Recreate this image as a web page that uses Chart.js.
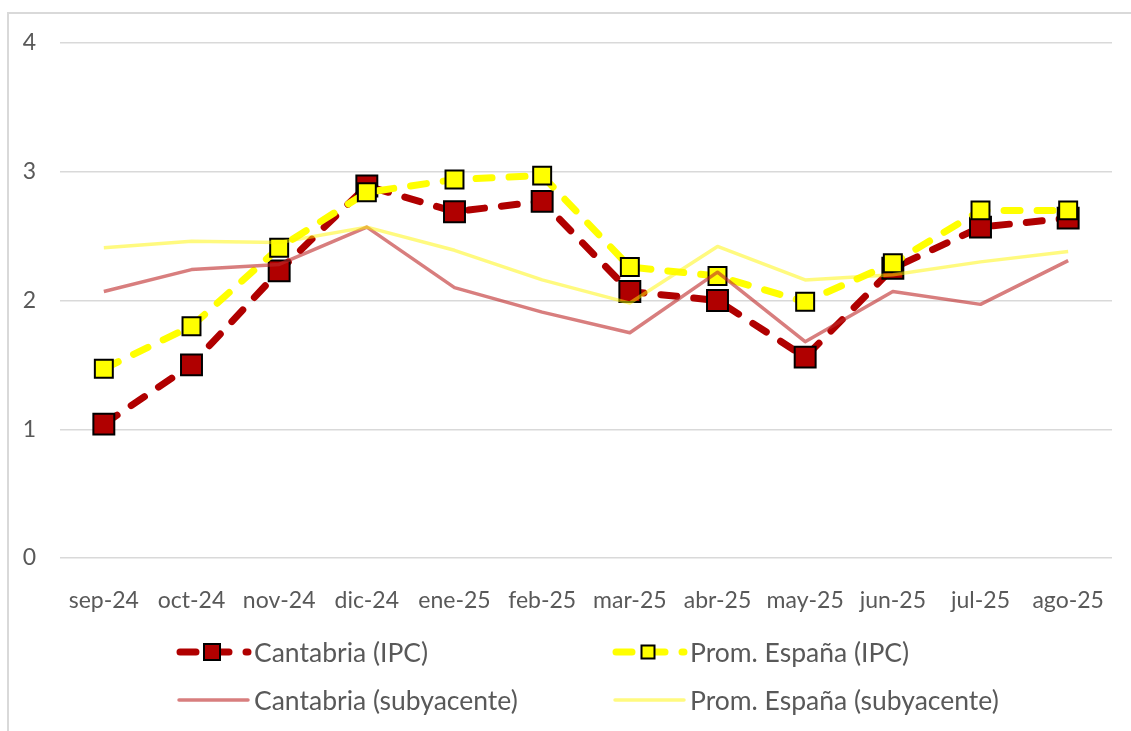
<!DOCTYPE html>
<html lang="es">
<head>
<meta charset="utf-8">
<title>IPC Cantabria vs España</title>
<script src="https://cdn.jsdelivr.net/npm/chart.js@4/dist/chart.umd.min.js"></script>
<style>
  html, body { margin: 0; padding: 0; background: #fff; }
  #wrap { position: relative; width: 1131px; height: 731px; overflow: hidden; font-family: Lato, "Open Sans", sans-serif; }
  #frame { position: absolute; left: 7px; top: 12px; width: 1300px; height: 900px; border: 2px solid #d9d9d9; }
  #chart { position: absolute; left: 0; top: 0; }
  .legend-item { position: absolute; display: flex; align-items: center; height: 30px; color: #595959; font-size: 26.5px; white-space: nowrap; }
  .legend-item svg { margin-right: 2px; flex: none; }
</style>
</head>
<body>
<div id="wrap">
  <div id="frame"></div>
  <canvas id="chart" width="1131" height="731"></canvas>
  <div id="legend"></div>
</div>
<script>
const months = ["sep-24", "oct-24", "nov-24", "dic-24", "ene-25", "feb-25", "mar-25", "abr-25", "may-25", "jun-25", "jul-25", "ago-25"];

const cantabriaIpc = [1.04, 1.50, 2.23, 2.89, 2.69, 2.77, 2.07, 2.00, 1.56, 2.25, 2.57, 2.64];
const espanaIpc = [1.47, 1.80, 2.41, 2.84, 2.94, 2.97, 2.26, 2.19, 1.99, 2.29, 2.70, 2.70];
const cantabriaSub = [2.07, 2.24, 2.28, 2.57, 2.10, 1.91, 1.75, 2.22, 1.68, 2.07, 1.97, 2.31];
const espanaSub = [2.41, 2.46, 2.45, 2.57, 2.39, 2.16, 1.98, 2.42, 2.16, 2.20, 2.30, 2.38];

const yTicks = [0, 1, 2, 3, 4];

const TEXT = "#595959";
const RED = "#b00000";
const YELLOW = "#ffff00";
const RED_SOFT = "rgba(190, 40, 40, 0.6)";
const YELLOW_SOFT = "rgba(255, 245, 0, 0.5)";
const DASH = [16, 17];

const datasets = [
  {
    label: "Cantabria (IPC)",
    data: cantabriaIpc,
    borderColor: RED,
    borderWidth: 7,
    borderDash: DASH,
    borderCapStyle: "round",
    pointStyle: "rect",
    pointRadius: 14.8,
    pointBackgroundColor: RED,
    pointBorderColor: "#000",
    pointBorderWidth: 2,
    order: 4,
  },
  {
    label: "Prom. España (IPC)",
    data: espanaIpc,
    borderColor: YELLOW,
    borderWidth: 7,
    borderDash: DASH,
    borderCapStyle: "round",
    pointStyle: "rect",
    pointRadius: 12.7,
    pointBackgroundColor: YELLOW,
    pointBorderColor: "#000",
    pointBorderWidth: 2,
    order: 3,
  },
  {
    label: "Cantabria (subyacente)",
    data: cantabriaSub,
    borderColor: RED_SOFT,
    borderWidth: 3.5,
    pointRadius: 0,
    order: 2,
  },
  {
    label: "Prom. España (subyacente)",
    data: espanaSub,
    borderColor: YELLOW_SOFT,
    borderWidth: 3.5,
    pointRadius: 0,
    order: 1,
  },
];

new Chart(document.getElementById("chart"), {
  type: "line",
  data: { labels: months, datasets },
  options: {
    responsive: false,
    animation: false,
    events: [],
    layout: { padding: { top: 43, right: 19, left: 0, bottom: 0 } },
    elements: { line: { tension: 0, borderJoinStyle: "round" } },
    plugins: { legend: { display: false }, tooltip: { enabled: false } },
    scales: {
      x: {
        offset: true,
        grid: { display: false },
        border: { display: false },
        ticks: { color: TEXT, font: { family: "Lato", size: 23 }, padding: 21, maxRotation: 0, autoSkip: false },
        afterFit: (s) => { s.height = 173; },
      },
      y: {
        min: yTicks[0],
        max: yTicks[yTicks.length - 1],
        afterBuildTicks: (s) => { s.ticks = yTicks.map((v) => ({ value: v })); },
        grid: { color: "#d9d9d9", lineWidth: 1.5, drawTicks: false },
        border: { display: false },
        ticks: { color: TEXT, font: { family: "Lato", size: 23 }, padding: 24 },
        afterFit: (s) => { s.width = 60; },
      },
    },
  },
});

// legend in two columns, built from the datasets
const legendPos = [
  { left: 176, top: 637 },
  { left: 612, top: 637 },
  { left: 176, top: 685 },
  { left: 612, top: 685 },
];

function legendSymbol(ds) {
  if (ds.pointStyle === "rect") {
    const side = Math.round(ds.pointRadius * Math.SQRT2 * 0.75);
    return `<svg width="76" height="30" viewBox="0 0 76 30">
      <line x1="4" y1="15" x2="72" y2="15" stroke="${ds.borderColor}" stroke-width="7" stroke-linecap="round" stroke-dasharray="16 17"/>
      <rect x="${36 - side / 2}" y="${15 - side / 2}" width="${side}" height="${side}" fill="${ds.pointBackgroundColor}" stroke="#000" stroke-width="2"/>
    </svg>`;
  }
  return `<svg width="76" height="30" viewBox="0 0 76 30">
    <line x1="3" y1="15" x2="72" y2="15" stroke="${ds.borderColor}" stroke-width="3.5" stroke-linecap="round"/>
  </svg>`;
}

document.getElementById("legend").innerHTML = datasets.map((ds, i) => `
  <div class="legend-item" style="left:${legendPos[i].left}px;top:${legendPos[i].top}px">
    ${legendSymbol(ds)}<span>${ds.label}</span>
  </div>
`).join("");
</script>
</body>
</html>
